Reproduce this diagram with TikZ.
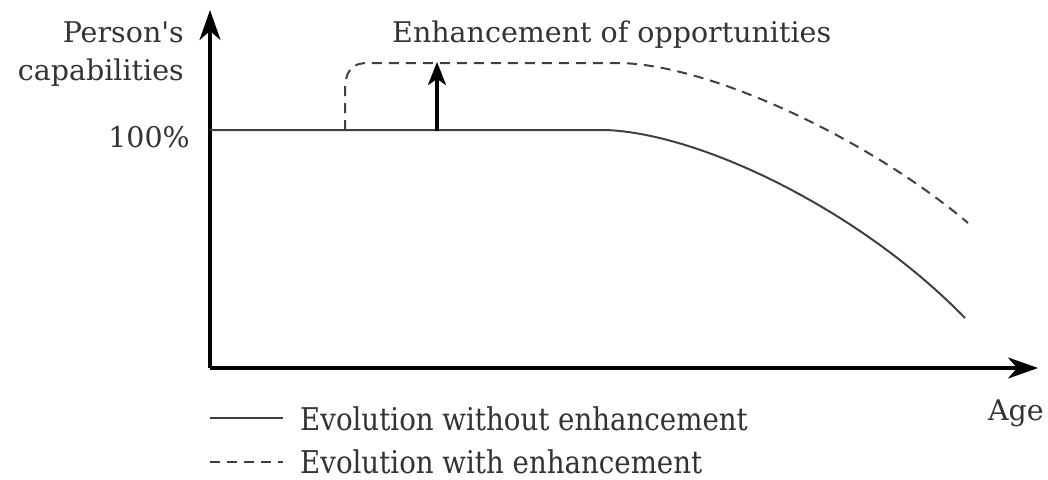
\documentclass[tikz,border=0pt]{standalone}
\usepackage{fontspec}
\usepackage{graphicx}
\setmainfont{DejaVu Serif}
\usetikzlibrary{arrows.meta}

\definecolor{curvegray}{gray}{0.25}
\definecolor{textgray}{gray}{0.2}

\begin{document}
\begin{tikzpicture}[x=1pt, y=-1pt, font=\fontsize{28.5}{31}\selectfont, text=textgray]

\useasboundingbox (0,0) rectangle (1048,479);

% axes
\coordinate (o) at (210, 368);
\coordinate (ytip) at (210, 10);
\coordinate (xtip) at (1038, 368);
\begin{scope}[line width=3.2pt, -{Stealth[length=30pt, width=21pt, inset=9pt]}]
\draw (o) -- (ytip);
\draw (o) -- (xtip);
\end{scope}

% curves
\coordinate (s0) at (210, 130);
\coordinate (s1) at (605, 130);
\coordinate (s2) at (965, 318);
\coordinate (d0) at (345, 130);
\coordinate (d1) at (345, 92);
\coordinate (d2) at (368, 63);
\coordinate (d3) at (620, 63);
\coordinate (d4) at (968, 223);
\begin{scope}[line width=2pt, curvegray]
\draw (s0) -- (s1) .. controls (700, 133) and (860, 210) .. (s2);
\draw [dash pattern=on 10pt off 7pt] (d0) -- (d1) .. controls (345, 70) and (352, 63) .. (d2) -- (d3) .. controls (712, 65) and (870, 140) .. (d4);
\end{scope}

% enhancement arrow
\coordinate (e0) at (437, 131);
\coordinate (e1) at (437, 62);
\draw [line width=3.2pt, -{Stealth[length=23pt, width=18pt, inset=6pt]}] (e0) -- (e1);

% labels
\node (person) [anchor=base east, inner sep=0pt] at (184, 42) {Person\textquotesingle s};
\node (capab) [anchor=base east, inner sep=0pt] at (184, 80) {capabilities};
\node (full) [anchor=base east, inner sep=0pt] at (190, 147) {100\%};
\node (enh) [anchor=base west, inner sep=0pt] at (392, 42) {Enhancement of opportunities};
\node (age) [anchor=base east, inner sep=0pt] at (1044, 420) {Age};

% legend
\coordinate (l0) at (210, 418);
\coordinate (l1) at (283, 418);
\coordinate (l2) at (210, 462);
\coordinate (l3) at (283, 462);
\draw [line width=2pt, curvegray] (l0) -- (l1);
\draw [line width=2pt, curvegray, dash pattern=on 10pt off 7pt] (l2) -- (l3);
\node (leg1) [anchor=base west, inner sep=0pt] at (300, 430) {\scalebox{0.97}[1.1]{Evolution without enhancement}};
\node (leg2) [anchor=base west, inner sep=0pt] at (300, 473) {\scalebox{0.97}[1.1]{Evolution with enhancement}};

\end{tikzpicture}
\end{document}
